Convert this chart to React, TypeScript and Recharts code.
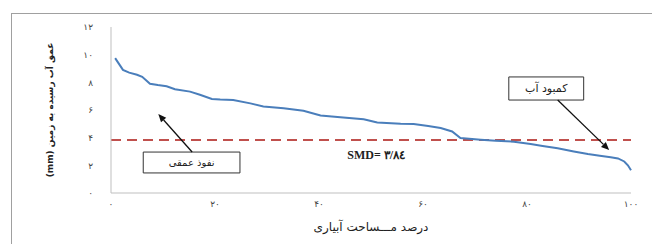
import React from "react";
import {
  LineChart,
  Line,
  XAxis,
  YAxis,
  ReferenceLine,
  ReferenceArea,
  ReferenceDot,
} from "recharts";

// percent of irrigated area (x) and depth of water reaching the soil, mm (y)
const areaPct = [
  0.8, 1.5, 2.3, 3.5, 5, 6, 7.5, 9, 10.7, 12.3, 15.2, 17.1, 19.4, 21, 23.5, 26.8, 29.3,
  33.2, 37, 40.3, 44.1, 48.6, 51.2, 55.7, 58.2, 61, 63.4, 65.6, 67.2, 71.1, 74, 77.5,
  80.7, 83, 85.9, 89, 91.7, 94, 96.1, 97.5, 98.7, 99.4, 100,
];
const depthMm = [
  9.75, 9.35, 8.9, 8.7, 8.55, 8.4, 7.9, 7.8, 7.72, 7.5, 7.33, 7.1, 6.8, 6.76, 6.72, 6.48,
  6.25, 6.12, 5.95, 5.6, 5.47, 5.33, 5.1, 5.0, 4.98, 4.85, 4.7, 4.45, 3.97, 3.85, 3.78,
  3.71, 3.54, 3.4, 3.23, 3.0, 2.82, 2.7, 2.58, 2.5, 2.28, 2.0, 1.65,
];
const xTicks = [0, 20, 40, 60, 80, 100];
const yTicks = [0, 2, 4, 6, 8, 10, 12];
const SMD = 3.84;

const data = areaPct.map((p, i) => ({ pct: p, depth: depthMm[i] }));

const FA_DIGITS = "۰۱۲۳۴۵۶۷۸۹";
const toFa = (n: number) => String(n).replace(/\d/g, (d) => FA_DIGITS[Number(d)]);

const LINE_BLUE = "#4a7ebb";
const DASH_RED = "#c0504d";
const AXIS_GRAY = "#bfbfbf";

function Arrow(props: any) {
  const { x1, y1, x2, y2 } = props;
  const ang = Math.atan2(y2 - y1, x2 - x1);
  const len = 8;
  const w = 3.5;
  const bx = x2 - len * Math.cos(ang);
  const by = y2 - len * Math.sin(ang);
  const px = -Math.sin(ang) * w;
  const py = Math.cos(ang) * w;
  return (
    <g>
      <line x1={x1} y1={y1} x2={bx} y2={by} stroke="#111" strokeWidth={1.3} />
      <polygon
        points={`${x2},${y2} ${bx + px},${by + py} ${bx - px},${by - py}`}
        fill="#111"
      />
    </g>
  );
}

export default function App() {
  return (
    <div
      style={{
        position: "absolute",
        left: 0,
        top: 0,
        width: 652,
        height: 244,
        background: "#fff",
        overflow: "hidden",
      }}
    >
      <div
        style={{
          position: "absolute",
          left: 11,
          top: 13,
          width: 680,
          height: 260,
          border: "1.5px solid #a0a0a0",
        }}
      />
      <div style={{ position: "absolute", left: 0, top: 0 }}>
        <LineChart
          width={652}
          height={244}
          data={data}
          margin={{ top: 27, right: 21, bottom: 7, left: 20 }}
          style={{ fontFamily: "DejaVu Sans" }}
        >
          <XAxis
            dataKey="pct"
            type="number"
            domain={[0, 100]}
            ticks={xTicks}
            tickFormatter={toFa}
            tickLine={false}
            axisLine={{ stroke: AXIS_GRAY }}
            tick={{ fontSize: 9, fill: "#444" }}
            height={44}
            label={{
              value: "درصد مـــساحت آبیاری",
              position: "insideBottom",
              offset: 6,
              style: { fontSize: 12, fill: "#222" },
            }}
          />
          <YAxis
            type="number"
            domain={[0, 12]}
            ticks={yTicks}
            tickFormatter={toFa}
            tickLine={false}
            tickMargin={12}
            axisLine={{ stroke: AXIS_GRAY }}
            tick={{ fontSize: 9, fill: "#444" }}
            width={91}
            label={{
              value: "(mm) عمق آب رسیده به زمین",
              angle: -90,
              position: "insideLeft",
              offset: 30,
              style: { textAnchor: "middle", fontSize: 9, fontWeight: "bold", fill: "#222" },
            }}
          />
          <ReferenceLine
            y={SMD}
            stroke={DASH_RED}
            strokeWidth={2}
            strokeDasharray="10 6"
          />
          <Line
            type="linear"
            dataKey="depth"
            stroke={LINE_BLUE}
            strokeWidth={2}
            dot={false}
            isAnimationActive={false}
          />
          <ReferenceArea
            x1={6.2}
            x2={24.8}
            y1={1.45}
            y2={2.96}
            fill="#fff"
            fillOpacity={1}
            stroke="#333"
            strokeWidth={1}
            label={{ value: "نفوذ عمقی", position: "center", fontSize: 10, fill: "#222" }}
          />
          <ReferenceArea
            x1={76.5}
            x2={90.9}
            y1={6.72}
            y2={8.39}
            fill="#fff"
            fillOpacity={1}
            stroke="#333"
            strokeWidth={1}
            label={{ value: "کمبود آب", position: "center", fontSize: 11, fill: "#222" }}
          />
          <ReferenceLine
            segment={[
              { x: 15.6, y: 2.96 },
              { x: 9.1, y: 5.71 },
            ]}
            shape={Arrow}
          />
          <ReferenceLine
            segment={[
              { x: 85.9, y: 6.72 },
              { x: 95.8, y: 3.11 },
            ]}
            shape={Arrow}
          />
          <ReferenceDot
            x={51}
            y={2.75}
            r={0}
            stroke="none"
            fill="none"
            label={{
              value: "SMD= ۳/۸٤",
              position: "center",
              fontSize: 12,
              fontFamily: "Liberation Serif",
              fontWeight: "bold",
              fill: "#222",
            }}
          />
        </LineChart>
      </div>
    </div>
  );
}
